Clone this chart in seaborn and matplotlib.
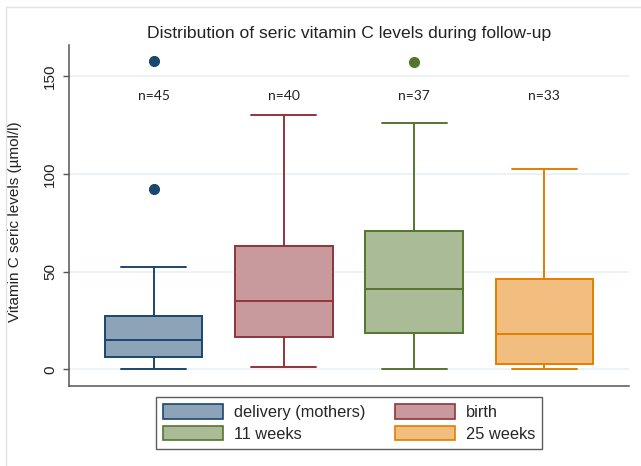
import numpy as np
import pandas as pd
import matplotlib
import matplotlib.pyplot as plt
from matplotlib.patches import Patch
from matplotlib.lines import Line2D
import seaborn as sns

sns.set_theme(style='white')
plt.rcParams['font.family'] = ['Liberation Sans', 'DejaVu Sans']

""" values read off the figure (box summaries per time point) """
groups = ['delivery (mothers)', 'birth', '11 weeks', '25 weeks']
n_obs = [45, 40, 37, 33]
whisk_lo = [0.0, 1.3, 0.0, 0.0]
q1 = [6.1, 16.7, 18.7, 2.5]
median = [15.0, 35.0, 41.2, 17.9]
q3 = [27.3, 63.3, 70.9, 46.0]
whisk_hi = [52.5, 130.0, 126.0, 102.7]
outliers = [[92.3, 158.0], [], [157.3], []]

face_cols = ['#8ca3b8', '#c89a9d', '#aabb97', '#f1be80']
edge_cols = ['#1a476f', '#90353b', '#55752f', '#e37e00']

# the raw points are not available: each group gets its summary values,
# repeated so that seaborn's quartiles / whiskers land on the read values
rows = []
for i, g in enumerate(groups):
    m = len(outliers[i]) + 1
    vals = ([whisk_lo[i]] + [q1[i]] * m + [median[i]] * m + [q3[i]] * m
            + [whisk_hi[i]] + outliers[i])
    rows += [(g, v) for v in vals]
df = pd.DataFrame(rows, columns=['group', 'value'])

fig = plt.figure(figsize=(6.41, 4.66), dpi=100)
ax = fig.add_axes([0.1076, 0.1723, 0.8737, 0.7311])

for i, g in enumerate(groups):
    sns.boxplot(data=df[df['group'] == g], x='group', y='value', order=groups,
                color=face_cols[i], linecolor=edge_cols[i], saturation=1,
                width=0.75, linewidth=1.4, fliersize=7, capwidths=0.5,
                flierprops=dict(marker='o', markerfacecolor=edge_cols[i],
                                markeredgecolor=edge_cols[i], markersize=7),
                ax=ax)

for i in range(len(groups)):
    ax.text(i, 140, f'n={n_obs[i]}', ha='center', va='center', fontsize=10,
            family=['Lato', 'DejaVu Sans'], color='#222222')

ax.set_xlim(-0.65, 3.65)
ax.set_ylim(-8.4, 166)
ax.set_yticks([0, 50, 100, 150])
ax.set_xticks([])
ax.set_xlabel('')
ax.set_ylabel('Vitamin C seric levels (µmol/l)', fontsize=11, color='#222222')
ax.yaxis.set_label_coords(-0.084, 0.482)
ax.yaxis.grid(True, color='#eaf2f3', linewidth=1.3)
ax.set_axisbelow(True)
for s in ['top', 'right']:
    ax.spines[s].set_visible(False)
for s in ['left', 'bottom']:
    ax.spines[s].set_color('#555555')
    ax.spines[s].set_linewidth(1.1)
ax.tick_params(axis='y', left=True, length=4.5, width=1, color='#555555',
               labelsize=11, labelrotation=90, pad=4, labelcolor='#222222')
for lab in ax.get_yticklabels():
    lab.set_va('center')

fig.text(0.5445, 0.929, 'Distribution of seric vitamin C levels during follow-up',
         ha='center', va='center', fontsize=12.6, color='#222222')

handles = [Patch(facecolor=face_cols[i], edgecolor=edge_cols[i], linewidth=1.2,
                 label=groups[i]) for i in [0, 2, 1, 3]]
leg = fig.legend(handles=handles, loc='center', bbox_to_anchor=(0.5445, 0.0925),
                 ncol=2, frameon=True, fancybox=False, edgecolor='#333333',
                 fontsize=11.8, handlelength=3.66, handleheight=1.0,
                 handletextpad=0.67, columnspacing=1.83, borderpad=0.42,
                 labelspacing=0.35)
leg.get_frame().set_linewidth(1.0)

# light frame of the original graph window
fig.add_artist(Line2D([6 / 641, 6 / 641], [0, 1 - 7 / 466], transform=fig.transFigure,
                      color='#e3e3e3', lw=1))
fig.add_artist(Line2D([6 / 641, 1], [1 - 7 / 466, 1 - 7 / 466], transform=fig.transFigure,
                      color='#e3e3e3', lw=1))

fig.savefig('out.png', dpi=100)
